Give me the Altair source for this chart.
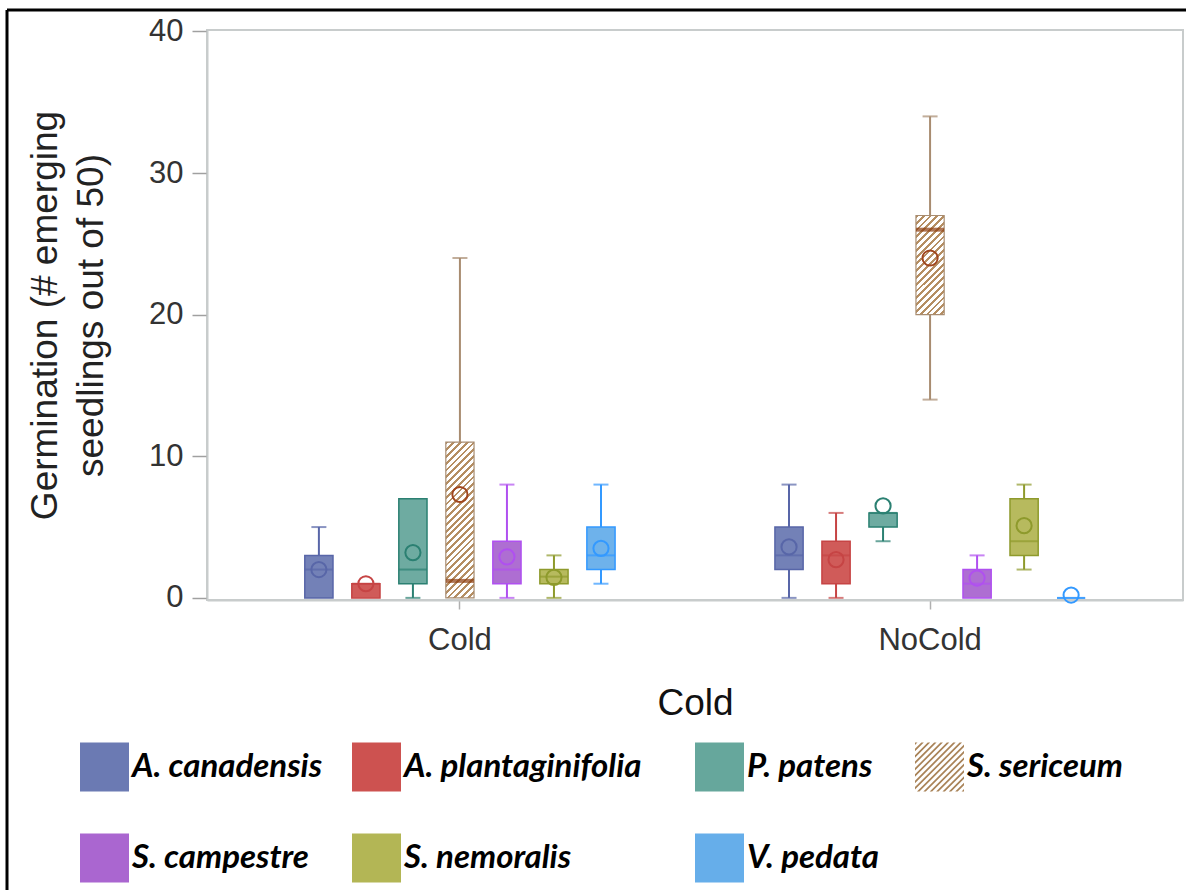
import altair as alt
import pandas as pd

species = ["A. canadensis", "A. plantaginifolia", "P. patens", "S. sericeum",
           "S. campestre", "S. nemoralis", "V. pedata"]
conds = ["Cold", "NoCold"]

# box statistics (order follows `species`)
cold_min = [0, 0, 0, 0, 0, 0, 1]
cold_q1 = [0, 0, 1, 0, 1, 1, 2]
cold_med = [2, 1, 2, 1.2, 2, 1.5, 3]
cold_q3 = [3, 1, 7, 11, 4, 2, 5]
cold_max = [5, 1, 7, 24, 8, 3, 8]
cold_mean = [2.0, 1.0, 3.2, 7.3, 2.9, 1.45, 3.5]

nocold_min = [0, 0, 4, 14, 0, 2, 0]
nocold_q1 = [2, 1, 5, 20, 0, 3, 0]
nocold_med = [3, 3, 6, 26, 1, 4, 0]
nocold_q3 = [5, 4, 6, 27, 2, 7, 0]
nocold_max = [8, 6, 6, 34, 3, 8, 0]
nocold_mean = [3.6, 2.7, 6.5, 24.0, 1.4, 5.1, 0.2]

fill_colors = ["#6B7AB3", "#CD5250", "#66A79C", "#A98358", "#AA66D0", "#B3B655", "#66AEEA"]
dark_colors = ["#5866A8", "#C64444", "#2B8072", "#A88C70", "#B050F0", "#8E9A2C", "#3399FF"]

rows = []
for cond, mn, q1, md, q3, mx, me in [
    ("Cold", cold_min, cold_q1, cold_med, cold_q3, cold_max, cold_mean),
    ("NoCold", nocold_min, nocold_q1, nocold_med, nocold_q3, nocold_max, nocold_mean),
]:
    for i, s in enumerate(species):
        rows.append(dict(cond=cond, species=s, lo=mn[i], q1=q1[i], med=md[i],
                         q3=q3[i], hi=mx[i], mean=me[i]))
df = pd.DataFrame(rows)

# ---- layout (pixels) ----
W, H = 976, 570
PAD_L, PAD_T = 207, 30
YMIN, YMAX = -0.15, 40.1
ppu = H / (YMAX - YMIN)
box_w = 28.2
HATCH = "#B58E62"
LEG_COL_X = [80, 352, 695, 915]      # left edge of each legend column
LEG_ROW_Y = [767, 858]               # centre of each legend row
LEG_BOX = 49

leg_rows = []
for i, s in enumerate(species):
    cx = LEG_COL_X[i % 4] - PAD_L
    cy = LEG_ROW_Y[i // 4] - PAD_T
    leg_rows.append(dict(species=s, sx=cx + LEG_BOX / 2, tx=cx + LEG_BOX + 3, ly=cy))
leg_df = pd.DataFrame(leg_rows)


def hatch(w, h, period=4.8, frac=0.42, color=HATCH):
    c = (1 / h + 1 / w) / (1 / h ** 2 + 1 / w ** 2)
    x2, y2 = c / h, c / w
    n = (w + h) / 2 ** 0.5 / period
    stops = []
    for i in range(int(n) + 1):
        a, b, e = i / n, (i + frac) / n, (i + 1) / n
        stops += [
            {"offset": round(min(a, 1), 4), "color": color},
            {"offset": round(min(b, 1), 4), "color": color},
            {"offset": round(min(b, 1), 4), "color": "#FFFFFF"},
            {"offset": round(min(e, 1), 4), "color": "#FFFFFF"},
        ]
    return {"gradient": "linear", "x1": 0, "y1": 0, "x2": x2, "y2": y2, "stops": stops}


def clip(poly, a, b, c):
    out = []
    n = len(poly)
    for i in range(n):
        p, q = poly[i], poly[(i + 1) % n]
        fp, fq = a * p[0] + b * p[1] - c, a * q[0] + b * q[1] - c
        if fp <= 0:
            out.append(p)
        if (fp < 0 < fq) or (fq < 0 < fp):
            t = fp / (fp - fq)
            out.append((p[0] + t * (q[0] - p[0]), p[1] + t * (q[1] - p[1])))
    return out


def hatch_path(step=0.26, thick=0.1):
    parts = []
    s = -2.0
    while s < 2.0:
        poly = [(-1, -1), (1, -1), (1, 1), (-1, 1)]
        poly = clip(poly, 1, 1, s + thick)
        poly = clip(poly, -1, -1, -s)
        if len(poly) >= 3:
            parts.append("M" + "L".join(f"{x:.3f},{y:.3f}" for x, y in poly) + "Z")
        s += step
    return "".join(parts)


xscale = alt.Scale(domain=conds, paddingOuter=0.108, paddingInner=0.14)
oscale = alt.Scale(domain=species, paddingInner=0.4, paddingOuter=1.0)
yscale = alt.Scale(domain=[YMIN, YMAX], nice=False, zero=False)
fscale = alt.Scale(domain=species, range=fill_colors)
dscale = alt.Scale(domain=species, range=dark_colors)
shapes = ["square"] * 7
shapes[species.index("S. sericeum")] = hatch_path()
sscale = alt.Scale(domain=species, range=shapes)

base = alt.Chart(df).encode(
    x=alt.X("cond:N", scale=xscale, title="Cold",
            axis=alt.Axis(labelAngle=0, tickSize=9, labelPadding=16, labelFontSize=31,
                          labelFont="Liberation Sans", labelColor="#333333",
                          titleFont="Liberation Sans", titleFontSize=37,
                          titleFontWeight="normal", titleColor="#111111", titlePadding=30,
                          domainColor="#C8CCCC", domainWidth=2, tickColor="#B0B0B0",
                          tickWidth=1.5)),
    xOffset=alt.XOffset("species:N", scale=oscale),
)

ycommon = dict(scale=yscale,
               axis=alt.Axis(values=[0, 10, 20, 30, 40], tickSize=15, labelPadding=9,
                             labelFontSize=31, labelFont="Liberation Sans",
                             labelColor="#333333", grid=False,
                             title=["Germination (# emerging", "seedlings out of 50)"],
                             titleFont="Liberation Sans", titleFontSize=37,
                             titleFontWeight="normal", titleColor="#222222",
                             titlePadding=38, titleLineHeight=46,
                             domainColor="#C8CCCC", domainWidth=2,
                             tickColor="#A0A0A0", tickWidth=1.5))

dark = alt.Color("species:N", scale=dscale, legend=None)

upper = base.mark_rule(strokeWidth=2).encode(
    y=alt.Y("q3:Q", **ycommon), y2="hi:Q", color=dark)
lower = base.mark_rule(strokeWidth=2).encode(
    y=alt.Y("lo:Q", **ycommon), y2="q1:Q", color=dark)
cap_hi = base.transform_filter("datum.hi > datum.q3").mark_tick(
    orient="horizontal", size=15, thickness=2).encode(y=alt.Y("hi:Q", **ycommon), color=dark)
cap_lo = base.transform_filter("datum.lo < datum.q1").mark_tick(
    orient="horizontal", size=15, thickness=2).encode(y=alt.Y("lo:Q", **ycommon), color=dark)

boxes = base.transform_filter("datum.species !== 'S. sericeum'").mark_bar(
    strokeWidth=1.5, fillOpacity=0.95).encode(
    y=alt.Y("q1:Q", **ycommon), y2="q3:Q",
    fill=alt.Fill("species:N", scale=fscale, legend=None),
    stroke=alt.Stroke("species:N", scale=dscale, legend=None))

ser_layers = []
for cond, q1s, q3s in [("Cold", cold_q1, cold_q3), ("NoCold", nocold_q1, nocold_q3)]:
    k = species.index("S. sericeum")
    h = (q3s[k] - q1s[k]) * ppu
    ser_layers.append(
        base.transform_filter(f"datum.species === 'S. sericeum' && datum.cond === '{cond}'")
        .mark_bar(fill=hatch(box_w, h), stroke="#A88C70", strokeWidth=1.2)
        .encode(y=alt.Y("q1:Q", **ycommon), y2="q3:Q"))

medians = base.transform_filter("datum.species !== 'S. sericeum'").mark_tick(
    orient="horizontal", size=28, thickness=2).encode(y=alt.Y("med:Q", **ycommon), color=dark)
med_ser = base.transform_filter("datum.species === 'S. sericeum'").mark_tick(
    orient="horizontal", size=28, thickness=4, color="#8B3A0B").encode(
    y=alt.Y("med:Q", **ycommon))

mean_col = alt.condition("datum.species === 'S. sericeum'", alt.value("#A0461E"), dark)
means = base.mark_point(shape="circle", filled=False, size=230, strokeWidth=2, opacity=1).encode(
    y=alt.Y("mean:Q", **ycommon), color=mean_col)

main = alt.layer(upper, lower, cap_hi, cap_lo, boxes, *ser_layers, medians, med_ser, means)

# ---- legend drawn as marks on pixel-like scales ----
lx = alt.Scale(domain=[0, W], nice=False, zero=False)
ly = alt.Scale(domain=[0, H], nice=False, zero=False, reverse=True)
lbase = alt.Chart(leg_df)
leg_sym = lbase.mark_point(filled=True, opacity=1, size=LEG_BOX ** 2, strokeWidth=0).encode(
    x=alt.X("sx:Q", scale=lx, axis=None),
    y=alt.Y("ly:Q", scale=ly, axis=None),
    fill=alt.Fill("species:N", scale=fscale, legend=None),
    shape=alt.Shape("species:N", scale=sscale, legend=None))
leg_txt = lbase.mark_text(align="left", baseline="middle", font="Lato", fontSize=33,
                          fontWeight="bold", fontStyle="italic", color="#000000").encode(
    x=alt.X("tx:Q", scale=lx, axis=None),
    y=alt.Y("ly:Q", scale=ly, axis=None),
    text="species:N")
# page border: top and left edges, kept inside the page
one = lbase.transform_filter("datum.species === 'A. canadensis'")
frame_top = one.mark_rule(color="#000000", strokeWidth=3).encode(
    x=alt.value(7 - PAD_L), x2=alt.value(1186 - PAD_L), y=alt.value(10 - PAD_T))
frame_left = one.mark_rule(color="#000000", strokeWidth=3).encode(
    x=alt.value(7 - PAD_L), y=alt.value(10 - PAD_T), y2=alt.value(890 - PAD_T))
legend_part = alt.layer(leg_sym, leg_txt, frame_top, frame_left)

chart = alt.layer(main, legend_part).resolve_scale(
    x="independent", y="independent"
).properties(
    width=W, height=H,
    autosize=alt.AutoSizeParams(type="none"),
    padding={"left": PAD_L, "top": PAD_T, "right": 6, "bottom": 294},
    background="white",
).configure_view(stroke="#C8CCCC", strokeWidth=2)

chart.save("out.html", embed_options={"renderer": "svg", "actions": False})
